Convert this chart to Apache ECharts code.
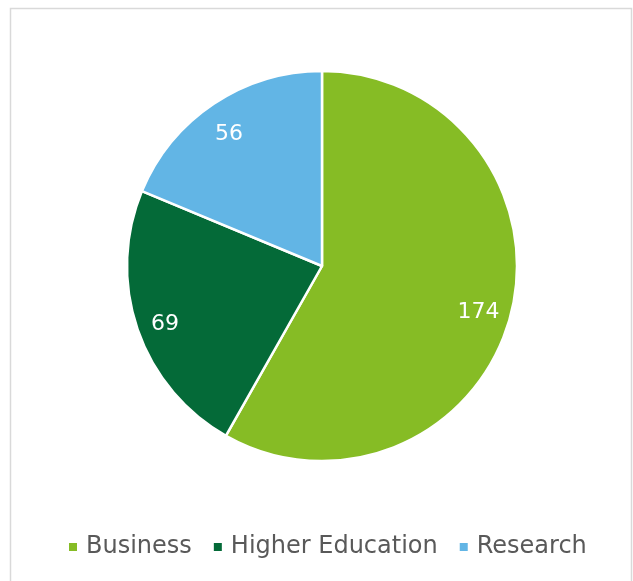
<!DOCTYPE html>
<html>
<head>
<meta charset="utf-8">
<script src="https://cdn.jsdelivr.net/npm/echarts@6/dist/echarts.min.js"></script>
<style>
  html, body { margin: 0; padding: 0; background: #fff; }
  #chart { width: 633px; height: 581px; }
</style>
</head>
<body>
<div id="chart"></div>
<script>
// Breakdown by sector
const categories = ['Business', 'Higher Education', 'Research'];
const values = [174, 69, 56];
const colors = ['#86BC25', '#046A38', '#62B5E5'];

const pieData = categories.map((name, i) => ({
  name: name,
  value: values[i],
  itemStyle: { color: colors[i] }
}));

// transparent twin of the pie, used only to place value labels further out
const labelData = categories.map((name, i) => ({
  name: name,
  value: values[i],
  itemStyle: { color: 'rgba(0,0,0,0)' }
}));

const chart = echarts.init(document.getElementById('chart'));
chart.setOption({
  animation: false,
  graphic: [{
    type: 'rect',
    silent: true,
    shape: { x: 10.5, y: 8.5, width: 621, height: 620 },
    style: { fill: 'none', stroke: '#d9d9d9', lineWidth: 1.5 }
  }],
  legend: {
    data: categories,
    left: 67,
    top: 535,
    padding: 0,
    icon: 'rect',
    itemWidth: 10,
    itemHeight: 10,
    itemGap: 20,
    textStyle: {
      fontFamily: 'DejaVu Sans',
      fontSize: 24,
      color: '#595959',
      padding: [0, 0, 0, 3]
    }
  },
  series: [
    {
      type: 'pie',
      center: [322, 266],
      radius: ['0%', 195],
      startAngle: 90,
      clockwise: true,
      silent: true,
      itemStyle: { borderColor: '#fff', borderWidth: 2.5 },
      label: { show: false },
      labelLine: { show: false },
      data: pieData
    },
    {
      type: 'pie',
      center: [322, 266],
      radius: ['0%', 322],
      startAngle: 90,
      clockwise: true,
      silent: true,
      z: 3,
      label: {
        show: true,
        position: 'inside',
        formatter: '{c}',
        color: '#fff',
        fontFamily: 'DejaVu Sans',
        fontSize: 22,
        offset: [-2, 5]
      },
      labelLine: { show: false },
      data: labelData
    }
  ]
});
</script>
</body>
</html>
